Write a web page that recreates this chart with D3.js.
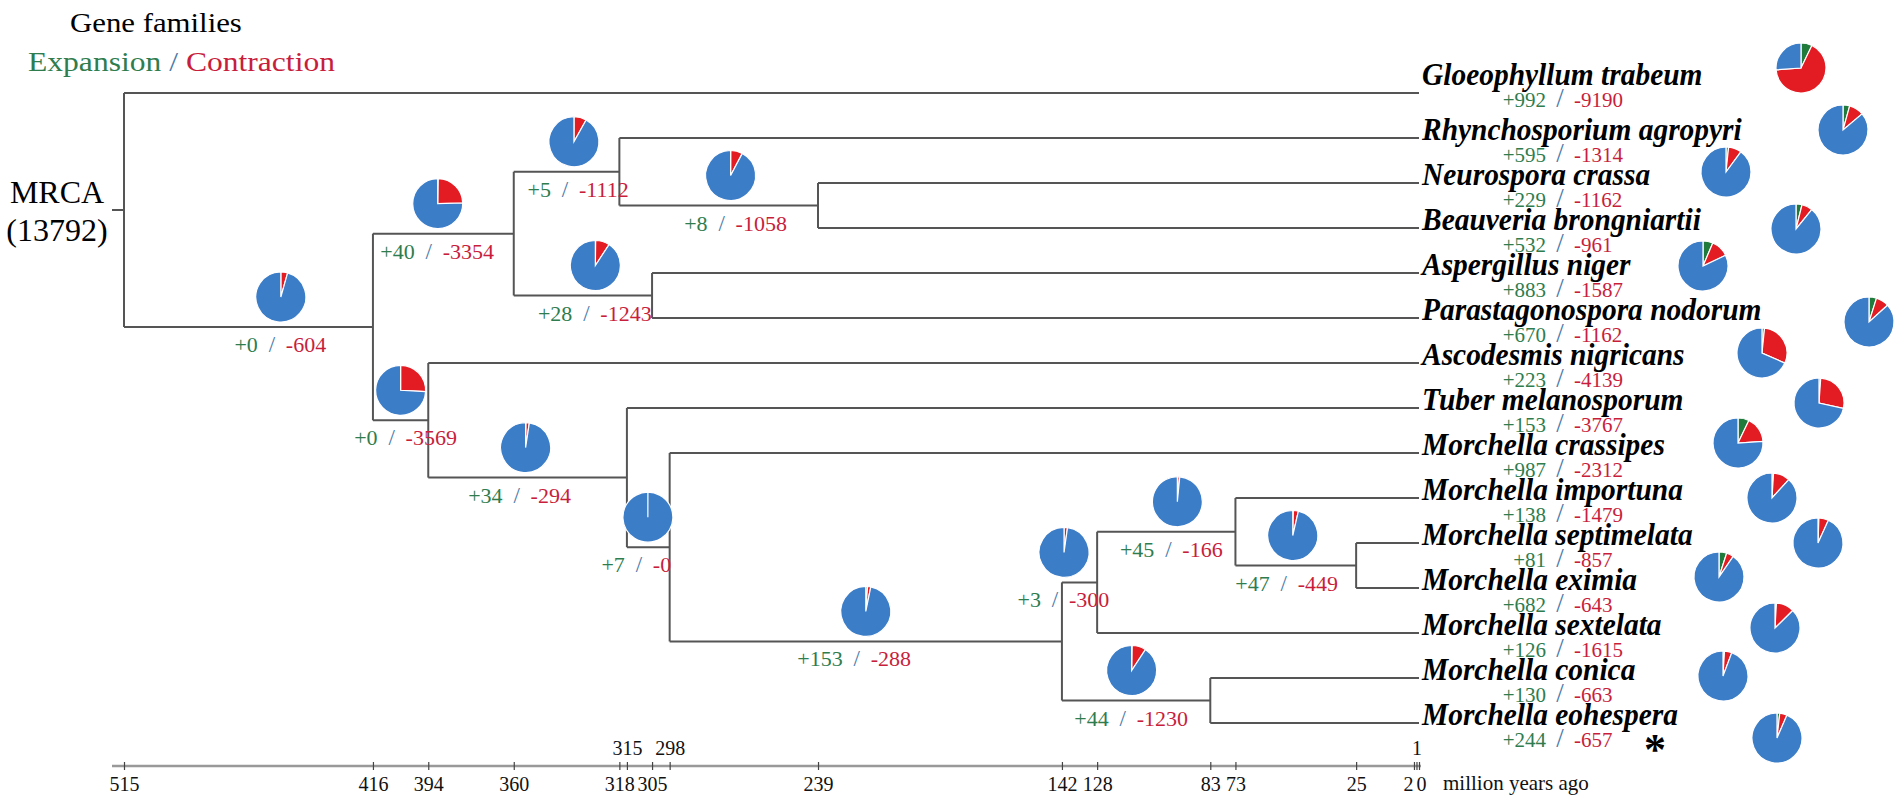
<!DOCTYPE html>
<html>
<head>
<meta charset="utf-8">
<script src="https://cdn.jsdelivr.net/npm/d3@7/dist/d3.min.js"></script>
<style>
    body { margin: 0; background: #fff; }
    svg text { font-family: "Liberation Serif", "Times New Roman", serif; }
</style>
</head>
<body>
<div id="tree"></div>
<script>
// tips, top to bottom
var taxa = [
    "Gloeophyllum trabeum", "Rhynchosporium agropyri", "Neurospora crassa",
    "Beauveria brongniartii", "Aspergillus niger", "Parastagonospora nodorum",
    "Ascodesmis nigricans", "Tuber melanosporum", "Morchella crassipes",
    "Morchella importuna", "Morchella septimelata", "Morchella eximia",
    "Morchella sextelata", "Morchella conica", "Morchella eohespera"
];
var taxaExpansion = [992, 595, 229, 532, 883, 670, 223, 153, 987, 138, 81, 682, 126, 130, 244];
var taxaContraction = [9190, 1314, 1162, 961, 1587, 1162, 4139, 3767, 2312, 1479, 857, 643, 1615, 663, 657];

// internal nodes: age (million years ago) and children (tip index or node name)
var nodeNames = ["root", "n416", "n360", "n318", "n239", "n305", "n394", "n315", "n298", "n142", "n128", "n73", "n25", "n83"];
var nodeAges = [515, 416, 360, 318, 239, 305, 394, 315, 298, 142, 128, 73, 25, 83];
var nodeChildren = [
    [0, "n416"], ["n360", "n394"], ["n318", "n305"], [1, "n239"], [2, 3], [4, 5],
    [6, "n315"], [7, "n298"], [8, "n142"], ["n128", "n83"], ["n73", 12], [9, "n25"],
    [10, 11], [13, 14]
];
// gene family changes on the branch leading to each node
var nodeExpansion = [null, 0, 40, 5, 8, 28, 0, 34, 7, 153, 3, 45, 47, 44];
var nodeContraction = [null, 604, 3354, 1112, 1058, 1243, 3569, 294, 0, 288, 300, 166, 449, 1230];
var mrcaFamilies = 13792;

var tickValues = [515, 416, 394, 360, 318, 305, 239, 142, 128, 83, 73, 25, 2, 0];
var tickValuesAbove = [315, 298, 1];

// layout
var width = 1902;
var height = 802;
var AXIS_Y = 766;
var LABEL_X = 1422;
var PIE_R = 25;
var GREEN = "#2f7d4e", RED = "#c81e3c", SLASH = "#4a7aa8";
var PIE_COLORS = ["#1f7a3c", "#e31b23", "#3c7dc8"];
// where each branch pie sits between parent (0) and node (1)
var branchPiePos = [null, 0.63, 0.46, 0.57, 0.56, 0.59, 0.5, 0.49, 0.49, 0.5, 0.06, 0.58, 0.475, 0.47];
// hand placed tip pies, [dx from label start, dy from tip line]
var tipPieOffset = [[379, -25], [421, -8], [304, -11], [374, 1], [281, -7], [447, 4], [340, -10],
    [397, -5], [316, -10], [350, 0], [396, 0], [297, -11], [353, -5], [301, -2], [355, 15]];

var svg = d3.select("#tree")
    .append("svg")
    .attr("width", width)
    .attr("height", height);

var xScale = d3.scaleLinear()
    .domain([515, 0])
    .range([124, 1419]);

var yTip = d3.scaleLinear()
    .domain([0, taxa.length - 1])
    .range([93, 723]);

var nodeIndex = {};
nodeNames.forEach(function (n, i) { nodeIndex[n] = i; });

function pos(c) {
    if (typeof c === "number") return { x: xScale(0), y: yTip(c) };
    var i = nodeIndex[c];
    var a = pos(nodeChildren[i][0]);
    var b = pos(nodeChildren[i][nodeChildren[i].length - 1]);
    return { x: xScale(nodeAges[i]), y: (a.y + b.y) / 2 };
}

var pie = d3.pie().sort(null).value(function (d) { return d; });
var arc = d3.arc().innerRadius(0).outerRadius(PIE_R);

function drawPie(cx, cy, exp, con) {
    svg.append("g")
        .attr("transform", "translate(" + cx + "," + cy + ")")
        .selectAll("path")
        .data(pie([exp, con, mrcaFamilies - exp - con]))
        .enter()
        .append("path")
        .attr("d", arc)
        .attr("fill", function (d, i) { return PIE_COLORS[i]; })
        .attr("stroke", "#fff")
        .attr("stroke-width", 1.2);
}

function drawChange(cx, y, exp, con, size, slashSize) {
    var g = svg.append("g");
    g.append("text")
        .attr("x", cx - 14)
        .attr("y", y)
        .attr("text-anchor", "end")
        .attr("fill", GREEN)
        .style("font-size", size + "px")
        .text("+" + exp);
    g.append("text")
        .attr("x", cx)
        .attr("y", y)
        .attr("text-anchor", "middle")
        .attr("fill", SLASH)
        .style("font-size", slashSize + "px")
        .text("/");
    g.append("text")
        .attr("x", cx + 14)
        .attr("y", y)
        .attr("fill", RED)
        .style("font-size", size + "px")
        .text("-" + con);
}

// tree branches
var lines = svg.append("g")
    .attr("stroke", "#555")
    .attr("stroke-width", 2)
    .attr("fill", "none");

nodeNames.forEach(function (name, i) {
    var p = pos(name);
    var kids = nodeChildren[i].map(pos);
    lines.append("line")
        .attr("x1", p.x).attr("x2", p.x)
        .attr("y1", kids[0].y).attr("y2", kids[kids.length - 1].y);
    kids.forEach(function (k) {
        lines.append("line")
            .attr("x1", p.x).attr("x2", k.x)
            .attr("y1", k.y).attr("y2", k.y);
    });
});
var rootPos = pos("root");
lines.append("line")
    .attr("x1", rootPos.x - 12).attr("x2", rootPos.x)
    .attr("y1", rootPos.y).attr("y2", rootPos.y);

// branch pies and labels
nodeNames.forEach(function (name, i) {
    if (i === 0) return;
    var parent = nodeChildren.findIndex(function (ch) { return ch.indexOf(name) >= 0; });
    var pp = pos(nodeNames[parent]);
    var p = pos(name);
    var cx = pp.x + branchPiePos[i] * (p.x - pp.x);
    drawPie(cx, p.y - 30, nodeExpansion[i], nodeContraction[i]);
    drawChange(cx - 9, p.y + 25, nodeExpansion[i], nodeContraction[i], 22, 23);
});

// tips
taxa.forEach(function (name, i) {
    var y = yTip(i);
    var shift = i === 0 ? -10 : 0;
    svg.append("text")
        .attr("transform", "translate(" + LABEL_X + "," + (y + 2 + shift) + ") scale(0.95,1)")
        .style("font-size", "31px")
        .style("font-weight", "bold")
        .style("font-style", "italic")
        .attr("fill", "#000")
        .text(name);
    drawChange(1560, y + 24 + shift, taxaExpansion[i], taxaContraction[i], 21, 27);
    drawPie(LABEL_X + tipPieOffset[i][0], y + tipPieOffset[i][1], taxaExpansion[i], taxaContraction[i]);
});

svg.append("text")
    .attr("x", 1655)
    .attr("y", yTip(taxa.length - 1) + 41)
    .attr("text-anchor", "middle")
    .style("font-size", "44px")
    .style("font-weight", "bold")
    .text("*");

// MRCA
svg.append("text")
    .attr("x", 57).attr("y", 203)
    .attr("text-anchor", "middle")
    .style("font-size", "32px")
    .text("MRCA");
svg.append("text")
    .attr("x", 57).attr("y", 241)
    .attr("text-anchor", "middle")
    .style("font-size", "32px")
    .text("(" + mrcaFamilies + ")");

// legend
svg.append("text")
    .attr("transform", "translate(70,32) scale(1.1,1)")
    .style("font-size", "28px")
    .text("Gene families");
var leg = svg.append("text")
    .attr("transform", "translate(28,71) scale(1.17,1)")
    .style("font-size", "27px");
leg.append("tspan").attr("fill", GREEN).text("Expansion ");
leg.append("tspan").attr("fill", SLASH).text("/ ");
leg.append("tspan").attr("fill", RED).text("Contraction");

// time axis
svg.append("line")
    .attr("x1", xScale(515) - 12).attr("x2", xScale(0) + 2)
    .attr("y1", AXIS_Y).attr("y2", AXIS_Y)
    .attr("stroke", "#999")
    .attr("stroke-width", 2.5);

var axisBelow = d3.axisBottom(xScale)
    .tickValues(tickValues)
    .tickSizeOuter(0);
var gb = svg.append("g")
    .attr("transform", "translate(0," + AXIS_Y + ")")
    .call(axisBelow);

var axisAbove = d3.axisTop(xScale)
    .tickValues(tickValuesAbove)
    .tickSizeOuter(0);
var ga = svg.append("g")
    .attr("transform", "translate(0," + AXIS_Y + ")")
    .call(axisAbove);

[gb, ga].forEach(function (g) {
    g.select(".domain").remove();
    g.selectAll(".tick line")
        .attr("y1", -4).attr("y2", 4)
        .attr("stroke", "#444")
        .attr("stroke-width", 1.2);
    g.selectAll(".tick text")
        .attr("fill", "#111")
        .style("font-family", "'Liberation Serif', serif")
        .style("font-size", "20px");
});
// nudge the crowded labels near the present apart
gb.selectAll(".tick text")
    .attr("y", 25)
    .attr("dy", 0)
    .attr("dx", function (d) { return d === 2 ? -6 : (d === 0 ? 2 : 0); });
ga.selectAll(".tick text").attr("y", -11).attr("dy", 0);

svg.append("text")
    .attr("x", 1443).attr("y", AXIS_Y + 24)
    .style("font-size", "21px")
    .attr("fill", "#111")
    .text("million years ago");
</script>
</body>
</html>
